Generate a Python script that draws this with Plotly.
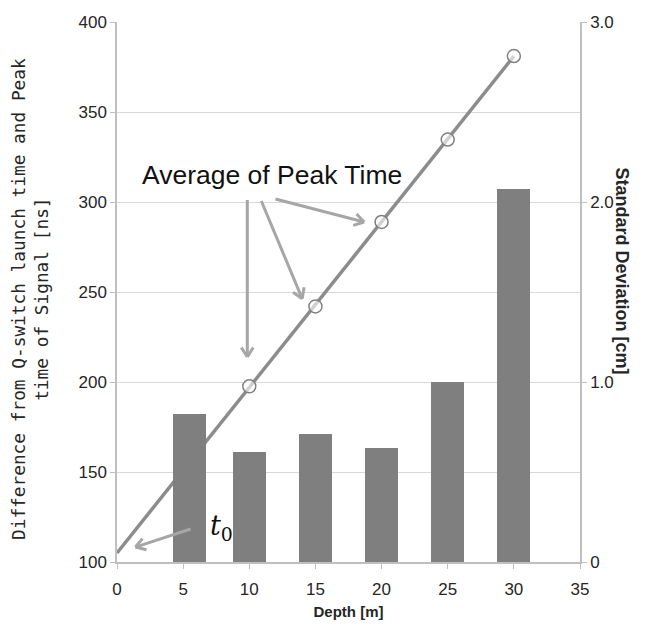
import math
import plotly.graph_objects as go

# ---- data ----
depth = [5.5, 10, 15, 20, 25, 30]
peak_time = [155.6, 197.6, 242.0, 288.9, 334.7, 381.1]
std_dev = [0.82, 0.61, 0.71, 0.635, 1.0, 2.07]
trend_x = [0, 30]
trend_y = [105.0, 381.0]
x_ticks = [0, 5, 10, 15, 20, 25, 30, 35]
y_ticks = [100, 150, 200, 250, 300, 350, 400]
y2_ticks = [0, 1, 2, 3]
y2_labels = ["0", "1.0", "2.0", "3.0"]

AX = "#BFBFBF"
GRID = "#D9D9D9"
TXT = "#262626"
ARW = "#A6A6A6"

W, H = 653, 624
ML, MR, MT, MB = 117, 73, 22, 62
X_RANGE = [0, 35]
Y_RANGE = [100, 400]

fig = go.Figure()
fig.add_trace(go.Bar(x=depth, y=std_dev, width=2.5, marker=dict(color="#7F7F7F", line=dict(width=0)),
                     yaxis="y2", showlegend=False))
fig.add_trace(go.Scatter(x=trend_x, y=trend_y, mode="lines", line=dict(color="#8C8C8C", width=3.5),
                         showlegend=False))
fig.add_trace(go.Scatter(x=depth, y=peak_time, mode="markers",
                         marker=dict(symbol="circle", size=13, color="rgba(255,255,255,0.6)",
                                     line=dict(color="#808080", width=1.5)),
                         showlegend=False))

tickfont = dict(family="Liberation Sans, Arial", size=17, color=TXT)
fig.update_layout(
    width=W, height=H,
    margin=dict(l=ML, r=MR, t=MT, b=MB, autoexpand=False),
    plot_bgcolor="white", paper_bgcolor="white",
    bargap=0,
    xaxis=dict(range=X_RANGE, tickvals=x_ticks, showgrid=False, showline=True, linecolor=AX, linewidth=1.5,
               ticks="outside", ticklen=5, tickcolor=AX, tickfont=tickfont, zeroline=False,
               ticklabelstandoff=6, automargin=False,
               title=dict(text="<b>Depth [m]</b>", font=dict(family="Liberation Sans, Arial", size=15, color=TXT),
                          standoff=8)),
    yaxis=dict(range=Y_RANGE, tickvals=y_ticks, showgrid=True, gridcolor=GRID, gridwidth=1,
               showline=True, linecolor=AX, linewidth=1.5, ticks="outside", ticklen=5, tickcolor=AX,
               tickfont=tickfont, zeroline=False, automargin=False),
    yaxis2=dict(range=[0, 3], tickvals=y2_ticks, ticktext=y2_labels, overlaying="y", side="right",
                showgrid=False, showline=True, linecolor=AX, linewidth=1.5, ticks="outside", ticklen=5,
                tickcolor=AX, tickfont=tickfont, zeroline=False, automargin=False),
)

ann = []
# axis titles
ann.append(dict(text="Difference from Q-switch launch time and Peak<br>time of Signal [ns]",
                xref="paper", yref="paper", x=0, y=0.487, xanchor="center", yanchor="middle",
                xshift=-87, textangle=-90, showarrow=False,
                font=dict(family="DejaVu Sans Mono", size=17.8, color=TXT)))
ann.append(dict(text="<b>Standard Deviation [cm]</b>", xref="paper", yref="paper", x=1, y=0.54,
                xanchor="center", yanchor="middle", xshift=42, textangle=90, showarrow=False,
                font=dict(family="Liberation Sans, Arial", size=18, color=TXT)))
# labels
ann.append(dict(text="Average of Peak Time", x=11.69, y=314.8, xref="x", yref="y", showarrow=False,
                font=dict(family="Liberation Sans, Arial", size=26.5, color="#111111")))
ann.append(dict(text="<i>t</i><sub>0</sub>", x=7.9, y=119, xref="x", yref="y", showarrow=False,
                font=dict(family="DejaVu Serif", size=27, color="#111111")))

# arrows (head, tail) with open chevron heads
px_x = (W - ML - MR) / (X_RANGE[1] - X_RANGE[0])
px_y = (H - MT - MB) / (Y_RANGE[1] - Y_RANGE[0])
arrows = [((9.85, 213.9), (9.85, 301.9)),
          ((14.0, 246.3), (10.86, 301.4)),
          ((18.68, 288.9), (11.86, 301.9)),
          ((1.39, 108.3), (5.68, 118.6))]
WING, ANG = 13, math.radians(32)
for (hx, hy), (tx, ty) in arrows:
    ann.append(dict(x=hx, y=hy, ax=tx, ay=ty, xref="x", yref="y", axref="x", ayref="y", text="",
                    showarrow=True, arrowhead=0, arrowwidth=3, arrowcolor=ARW))
    dx = (tx - hx) * px_x
    dy = -(ty - hy) * px_y
    n = math.hypot(dx, dy)
    ux, uy = dx / n, dy / n
    for s in (1, -1):
        c, si = math.cos(s * ANG), math.sin(s * ANG)
        wx = (ux * c - uy * si) * WING
        wy = (ux * si + uy * c) * WING
        ann.append(dict(x=hx, y=hy, ax=wx, ay=wy, xref="x", yref="y", text="",
                        showarrow=True, arrowhead=0, arrowwidth=3, arrowcolor=ARW))
fig.update_layout(annotations=ann)

fig.write_html("out.html", config={"displayModeBar": False},
               post_script="document.body.style.margin='0';")
